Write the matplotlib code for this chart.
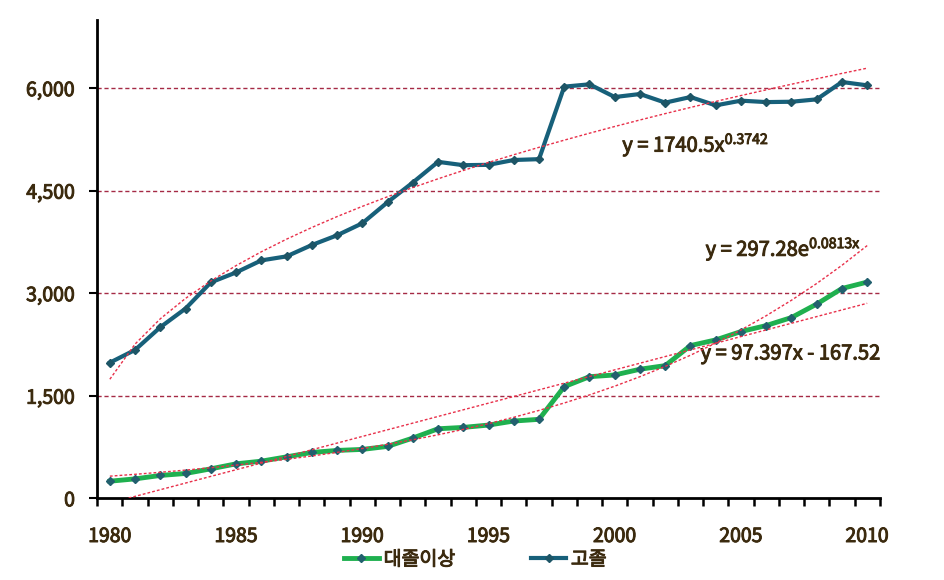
import numpy as np
import matplotlib
matplotlib.use('Agg')
import matplotlib.pyplot as plt
import matplotlib.patheffects as pe

plt.rcParams['font.family'] = ['Noto Sans CJK KR', 'DejaVu Sans']
plt.rcParams['mathtext.fontset'] = 'custom'
plt.rcParams['mathtext.rm'] = 'Noto Sans CJK KR'
plt.rcParams['mathtext.it'] = 'Noto Sans CJK KR'
plt.rcParams['mathtext.bf'] = 'Noto Sans CJK KR:bold'

years = np.arange(1980, 2011)
high_school = [1983, 2170, 2502, 2775, 3157, 3303, 3479, 3538, 3704, 3846,
               4022, 4330, 4618, 4921, 4872, 4877, 4948, 4960, 6021, 6055,
               5869, 5913, 5787, 5869, 5747, 5816, 5795, 5800, 5835, 6089,
               6040]
college = [249, 283, 333, 362, 430, 503, 542, 605, 670, 699,
           714, 758, 880, 1016, 1036, 1070, 1129, 1154, 1632, 1778,
           1803, 1887, 1940, 2233, 2316, 2438, 2526, 2643, 2840, 3068,
           3162]
labels = ['대졸이상', '고졸']

# trendline coefficients (as printed on the chart)
pow_a, pow_b = 1740.5, 0.3742
exp_a, exp_b = 297.28, 0.0813
lin_a, lin_b = 97.397, -167.52

text_col = '#3b2a0e'
grid_col = '#a52a45'
trend_col = '#e8304a'
thick = [pe.withStroke(linewidth=0.7, foreground=text_col)]

fig = plt.figure(figsize=(9.44, 5.8), dpi=100)
ax = fig.add_axes([0.103, 0.141, 0.829, 0.825])

idx = years - 1979
ax.plot(years, pow_a * idx ** pow_b, color=trend_col, lw=1, ls=(0, (2, 1.5)), zorder=4)
ax.plot(years, exp_a * np.exp(exp_b * idx), color=trend_col, lw=1, ls=(0, (2, 1.5)), zorder=4)
xl = np.linspace(years[0], years[-1], 200)
ax.plot(xl, lin_a * (xl - 1979) + lin_b, color=trend_col, lw=1, ls=(0, (2, 1.5)), zorder=4)

ax.plot(years, college, color='#1fb04f', lw=3.5, marker='D', ms=4.5,
        mfc='#22606e', mec='#22606e', label=labels[0], zorder=3)
ax.plot(years, high_school, color='#17607a', lw=3, marker='D', ms=4.5,
        mfc='#1d5566', mec='#1d5566', label=labels[1], zorder=3)

for v in [1500, 3000, 4500, 6000]:
    ax.axhline(v, color=grid_col, lw=1, ls=(0, (3, 2)), zorder=1)

ax.set_xlim(1979.5, 2010.5)
ax.set_ylim(0, 7000)
ax.set_yticks([0, 1500, 3000, 4500, 6000])
ax.set_yticklabels(['0', '1,500', '3,000', '4,500', '6,000'])
ax.set_xticks(range(1980, 2011, 5))
ax.set_xticks(np.arange(1979.5, 2011, 1), minor=True)
ax.tick_params(axis='x', which='major', length=0, pad=20, labelsize=14, labelcolor=text_col)
ax.tick_params(axis='x', which='minor', length=6, width=1.8, direction='out')
ax.tick_params(axis='y', length=6, width=1.5, direction='out', pad=10,
               labelsize=14, labelcolor=text_col)
for t in ax.get_xticklabels() + ax.get_yticklabels():
    t.set_path_effects(thick)

for s in ['top', 'right']:
    ax.spines[s].set_visible(False)
for s in ['left', 'bottom']:
    ax.spines[s].set_linewidth(2)
    ax.spines[s].set_color('black')

eq_kw = dict(fontsize=14.5, color=text_col, va='center', path_effects=thick)
ax.text(2000.3, 5160, r'y = 1740.5x$^{\mathrm{0.3742}}$', **eq_kw)
ax.text(2003.6, 3636, r'y = 297.28e$^{\mathrm{0.0813x}}$', **eq_kw)
ax.text(2003.4, 2111, 'y = 97.397x - 167.52', **eq_kw)

leg = ax.legend(loc='upper center', bbox_to_anchor=(0.483, -0.07), ncol=2, frameon=False,
                fontsize=14, columnspacing=3.9, handlelength=1.8, handletextpad=0.25)
for t in leg.get_texts():
    t.set_color(text_col)
    t.set_path_effects(thick)

fig.savefig('out.png', dpi=100)
